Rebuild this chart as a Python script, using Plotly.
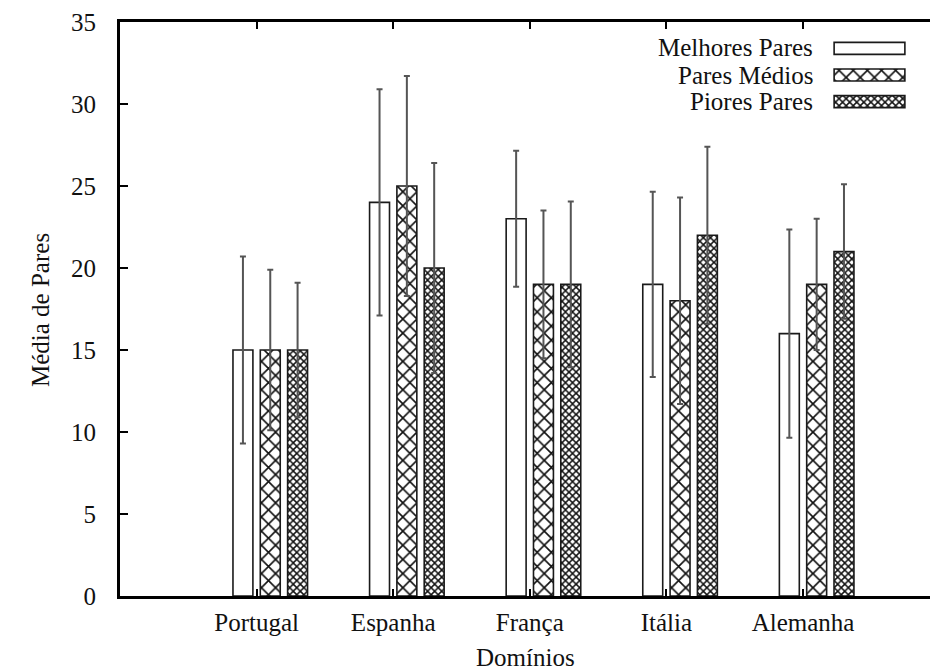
import numpy as np
import plotly.graph_objects as go

categories = ["Portugal", "Espanha", "França", "Itália", "Alemanha"]
series_names = ["Melhores Pares", "Pares Médios", "Piores Pares"]
melhores = [15, 24, 23, 19, 16]
medios = [15, 25, 19, 18, 19]
piores = [15, 20, 19, 22, 21]
err_melhores = [5.7, 6.9, 4.15, 5.65, 6.35]
err_medios = [4.9, 6.7, 4.5, 6.3, 4.0]
err_piores = [4.1, 6.4, 5.05, 5.4, 4.1]
y_ticks = [0, 5, 10, 15, 20, 25, 30, 35]

FONT = "Liberation Serif, Times New Roman, DejaVu Serif, serif"
INK = "#111111"
values = [melhores, medios, piores]
errors = [err_melhores, err_medios, err_piores]
offsets = [-0.1, 0.1, 0.3]
patterns = [dict(shape=""),
            dict(shape="x", size=10, solidity=0.3, fgcolor="#111111", bgcolor="white", fgopacity=1),
            dict(shape="x", size=5, solidity=0.5, fgcolor="#111111", bgcolor="white", fgopacity=1)]

pos = np.arange(1, len(categories) + 1)
fig = go.Figure()
for name, vals, errs, off, pat in zip(series_names, values, errors, offsets, patterns):
    fig.add_trace(go.Bar(
        x=pos + off, y=vals, width=0.146, name=name, showlegend=False,
        marker=dict(color="white", line=dict(color="#1a1a1a", width=1.6), pattern=pat),
        error_y=dict(type="data", array=errs, visible=True, color="#555555", thickness=2, width=3),
    ))

# custom legend (text to the left of the swatch)
for i, (name, pat) in enumerate(zip(series_names, patterns)):
    fig.add_trace(go.Bar(
        x=[1], y=[i], base=[0], orientation="h", width=0.45, showlegend=False,
        marker=dict(color="white", line=dict(color="#1a1a1a", width=1.6), pattern=pat),
        xaxis="x2", yaxis="y2", hoverinfo="skip",
    ))

W, H = 930, 672
L, R, T, B = 120, 0, 22, 76
pw, ph = W - L - R, H - T - B
def px2x(p):
    return (p - L) / pw
def py2y(p):
    return (H - B - p) / ph

annotations = []
row_y = [48, 75, 102]
for name, ry in zip(series_names, row_y):
    annotations.append(dict(text=name, xref="paper", yref="paper", x=px2x(815), y=py2y(ry),
                            xanchor="right", yanchor="middle", showarrow=False,
                            font=dict(family=FONT, size=25, color=INK)))
annotations.append(dict(text="Média de Pares", xref="paper", yref="paper", x=px2x(40), y=py2y(310),
                        xanchor="center", yanchor="middle", textangle=-90, showarrow=False,
                        font=dict(family=FONT, size=25, color=INK)))
annotations.append(dict(text="Domínios", xref="paper", yref="paper", x=px2x(525), y=py2y(657),
                        xanchor="center", yanchor="middle", showarrow=False,
                        font=dict(family=FONT, size=25, color=INK)))

fig.update_layout(
    width=W, height=H, margin=dict(l=L, r=R, t=T, b=B),
    paper_bgcolor="white", plot_bgcolor="white",
    barmode="overlay", showlegend=False,
    annotations=annotations,
    xaxis=dict(range=[0, pw / 136.6], tickvals=list(pos), ticktext=categories,
               ticks="inside", ticklen=7, tickwidth=1.5, tickcolor="black",
               showline=True, linecolor="black", linewidth=3, mirror="ticks",
               showgrid=False, zeroline=False, ticklabelstandoff=2,
               tickfont=dict(family=FONT, size=25, color=INK)),
    yaxis=dict(range=[0, 35], tickvals=y_ticks, ticks="inside", ticklen=8, tickwidth=2,
               tickcolor="black", showline=True, linecolor="black", linewidth=3, mirror=False,
               showgrid=False, zeroline=False, ticklabelstandoff=16,
               tickfont=dict(family=FONT, size=25, color=INK)),
    xaxis2=dict(domain=[px2x(832), px2x(907)], range=[-0.03, 1.03], anchor="y2",
                visible=False, fixedrange=True),
    yaxis2=dict(domain=[py2y(115), py2y(35)], range=[2.5, -0.5], anchor="x2",
                visible=False, fixedrange=True),
)

fig.write_html("out.html")
